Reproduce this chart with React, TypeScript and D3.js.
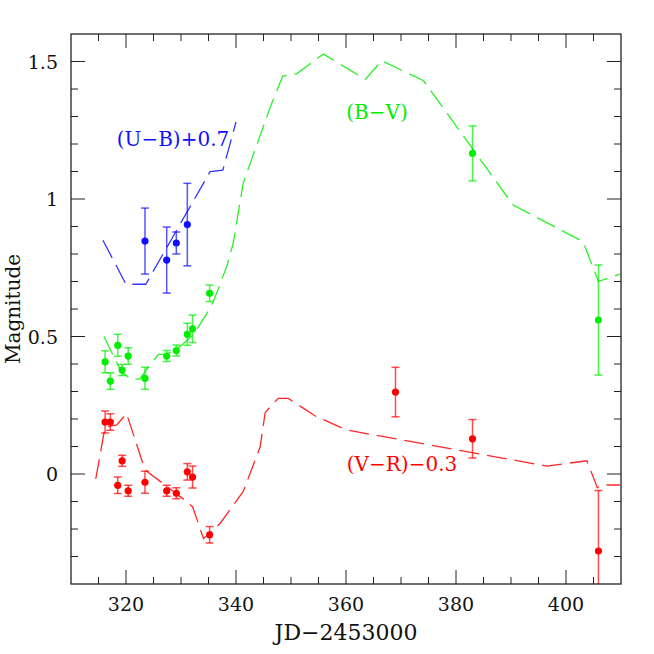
import React from "react";
import * as d3 from "d3";

// (U-B)+0.7 observations
const ubJD = [323.45, 327.4, 329.15, 331.15];
const ubMag = [0.847, 0.778, 0.84, 0.907];
const ubErr = [0.12, 0.12, 0.04, 0.15];

// (B-V) observations
const bvJD = [316.2, 317.15, 318.5, 319.3, 320.4, 323.45, 327.4, 329.15, 331.15, 332.1, 335.2, 383.0, 405.9];
const bvMag = [0.408, 0.338, 0.468, 0.378, 0.429, 0.348, 0.429, 0.449, 0.508, 0.528, 0.657, 1.166, 0.56];
const bvErr = [0.04, 0.03, 0.04, 0.02, 0.03, 0.04, 0.02, 0.02, 0.04, 0.05, 0.03, 0.1, 0.2];

// (V-R)-0.3 observations
const vrJD = [316.2, 317.15, 318.5, 319.3, 320.4, 323.45, 327.4, 329.15, 331.15, 332.1, 335.2, 369.0, 383.0, 405.9];
const vrMag = [0.189, 0.189, -0.041, 0.048, -0.061, -0.03, -0.061, -0.07, 0.008, -0.011, -0.221, 0.298, 0.128, -0.28];
const vrErr = [0.04, 0.03, 0.03, 0.02, 0.02, 0.04, 0.02, 0.02, 0.03, 0.04, 0.03, 0.09, 0.07, 0.22];

// model curves (dashed)
const ubModelJD = [315.8, 320, 323.6, 335.3, 337.6, 340];
const ubModelMag = [0.85, 0.69, 0.69, 1.1, 1.105, 1.28];

const bvModelJD = [316, 317.7, 319.2, 321, 322.5, 324.1, 325.9, 327.4, 329.8, 332.2, 334.7, 336, 338.3, 339.5, 341.3, 344.1, 346.5, 348.5, 351, 355.9, 363.5, 366.5, 374.1, 390.4, 403.1, 405.9, 409.8];
const bvModelMag = [0.5, 0.43, 0.37, 0.345, 0.345, 0.39, 0.435, 0.435, 0.463, 0.505, 0.584, 0.633, 0.754, 0.84, 1.057, 1.215, 1.348, 1.447, 1.455, 1.527, 1.435, 1.503, 1.43, 0.978, 0.845, 0.7, 0.727];

const vrModelJD = [314.5, 316.2, 318.3, 320.1, 323.45, 323.9, 327.1, 331, 332.1, 334.1, 335.2, 337.1, 341.3, 344.4, 345.3, 346.8, 347.7, 349.5, 354.4, 360.1, 396.5, 403.8, 405.7, 406.5, 409.8];
const vrModelMag = [-0.018, 0.172, 0.178, 0.22, 0.015, 0.008, -0.04, -0.1, -0.119, -0.235, -0.215, -0.18, -0.064, 0.099, 0.223, 0.257, 0.275, 0.275, 0.211, 0.16, 0.029, 0.048, -0.05, -0.04, -0.04];

const xMajor = [320, 340, 360, 380, 400];
const yMajor = [0, 0.5, 1, 1.5];
const yTickLabels = ["0", "0.5", "1", "1.5"];

const FONT = "'DejaVu Serif', serif";

export default function App() {
  const W = 654, H = 654;
  const x0 = 71, x1 = 621, y0 = 584, y1 = 34;
  const x = d3.scaleLinear().domain([310, 410]).range([x0, x1]);
  const y = d3.scaleLinear().domain([-0.4, 1.6]).range([y0, y1]);

  const xMinor = d3.range(315, 410, 5).filter((v) => !xMajor.includes(v));
  const yMinor = d3.range(-3, 16).map((v) => v / 10).filter((v) => !yMajor.some((m) => Math.abs(m - v) < 1e-9));

  const line = d3.line<[number, number]>().x((d) => x(d[0])).y((d) => y(d[1]));
  const zip = (a: number[], b: number[]) => a.map((v, i) => [v, b[i]] as [number, number]);

  const axisColor = "#222";
  const majorLen = 14, minorLen = 7;

  const series = [
    { jd: ubJD, mag: ubMag, err: ubErr, mjd: ubModelJD, mmag: ubModelMag, color: "#1010ff" },
    { jd: bvJD, mag: bvMag, err: bvErr, mjd: bvModelJD, mmag: bvModelMag, color: "#00ee00" },
    { jd: vrJD, mag: vrMag, err: vrErr, mjd: vrModelJD, mmag: vrModelMag, color: "#ff0000" },
  ];

  return (
    <svg width={W} height={H} style={{ display: "block", position: "absolute", left: 0, top: 0, background: "#fff" }}>
      <defs>
        <clipPath id="plotclip">
          <rect x={x0} y={y1} width={x1 - x0} height={y0 - y1} />
        </clipPath>
      </defs>
      <rect x={0} y={0} width={W} height={H} fill="#fff" />
      <g clipPath="url(#plotclip)">
        {series.map((s, si) => (
          <path key={"m" + si} d={line(zip(s.mjd, s.mmag)) || ""} fill="none" stroke={s.color} strokeWidth={1.3} strokeDasharray="20 8" strokeOpacity={0.85} />
        ))}
        {series.map((s, si) => (
          <g key={"e" + si} stroke={s.color} strokeWidth={1.5} strokeOpacity={0.7}>
            {s.jd.map((j, i) => {
              const cx = x(j);
              const ya = y(s.mag[i] + s.err[i]);
              const yb = y(s.mag[i] - s.err[i]);
              return (
                <g key={i}>
                  <line x1={cx} x2={cx} y1={ya} y2={yb} />
                  <line x1={cx - 4} x2={cx + 4} y1={ya} y2={ya} />
                  <line x1={cx - 4} x2={cx + 4} y1={yb} y2={yb} />
                </g>
              );
            })}
          </g>
        ))}
        {series.map((s, si) => (
          <g key={"p" + si} fill={s.color}>
            {s.jd.map((j, i) => (
              <circle key={i} cx={x(j)} cy={y(s.mag[i])} r={3.6} />
            ))}
          </g>
        ))}
      </g>

      {/* frame */}
      <rect x={x0} y={y1} width={x1 - x0} height={y0 - y1} fill="none" stroke={axisColor} strokeWidth={1.3} />
      <g stroke={axisColor} strokeWidth={1}>
        {xMajor.map((v) => (
          <g key={"xM" + v}>
            <line x1={x(v)} x2={x(v)} y1={y0} y2={y0 - majorLen} />
            <line x1={x(v)} x2={x(v)} y1={y1} y2={y1 + majorLen} />
          </g>
        ))}
        {xMinor.map((v) => (
          <g key={"xm" + v}>
            <line x1={x(v)} x2={x(v)} y1={y0} y2={y0 - minorLen} />
            <line x1={x(v)} x2={x(v)} y1={y1} y2={y1 + minorLen} />
          </g>
        ))}
        {yMajor.map((v) => (
          <g key={"yM" + v}>
            <line x1={x0} x2={x0 + majorLen} y1={y(v)} y2={y(v)} />
            <line x1={x1} x2={x1 - majorLen} y1={y(v)} y2={y(v)} />
          </g>
        ))}
        {yMinor.map((v) => (
          <g key={"ym" + v}>
            <line x1={x0} x2={x0 + minorLen} y1={y(v)} y2={y(v)} />
            <line x1={x1} x2={x1 - minorLen} y1={y(v)} y2={y(v)} />
          </g>
        ))}
      </g>

      {/* tick labels */}
      <g fontFamily={FONT} fontSize={19} fill="#111">
        {xMajor.map((v) => (
          <text key={"xl" + v} x={x(v)} y={611} textAnchor="middle">{String(v)}</text>
        ))}
        {yMajor.map((v, i) => (
          <text key={"yl" + v} x={58} y={y(v) + 7} textAnchor="end">{yTickLabels[i]}</text>
        ))}
      </g>

      {/* axis titles */}
      <text x={(x0 + x1) / 2} y={640} textAnchor="middle" fontFamily={FONT} fontSize={22} fill="#111">JD−2453000</text>
      <text transform={`translate(20,${(y0 + y1) / 2}) rotate(-90)`} textAnchor="middle" fontFamily={FONT} fontSize={20} fill="#111">Magnitude</text>

      {/* series labels */}
      <text x={173} y={146} textAnchor="middle" fontFamily={FONT} fontSize={20} fill="#1010ff">(U−B)+0.7</text>
      <text x={377} y={119} textAnchor="middle" fontFamily={FONT} fontSize={20} fill="#00ee00">(B−V)</text>
      <text x={402} y={471} textAnchor="middle" fontFamily={FONT} fontSize={20} fill="#ff0000">(V−R)−0.3</text>
    </svg>
  );
}
